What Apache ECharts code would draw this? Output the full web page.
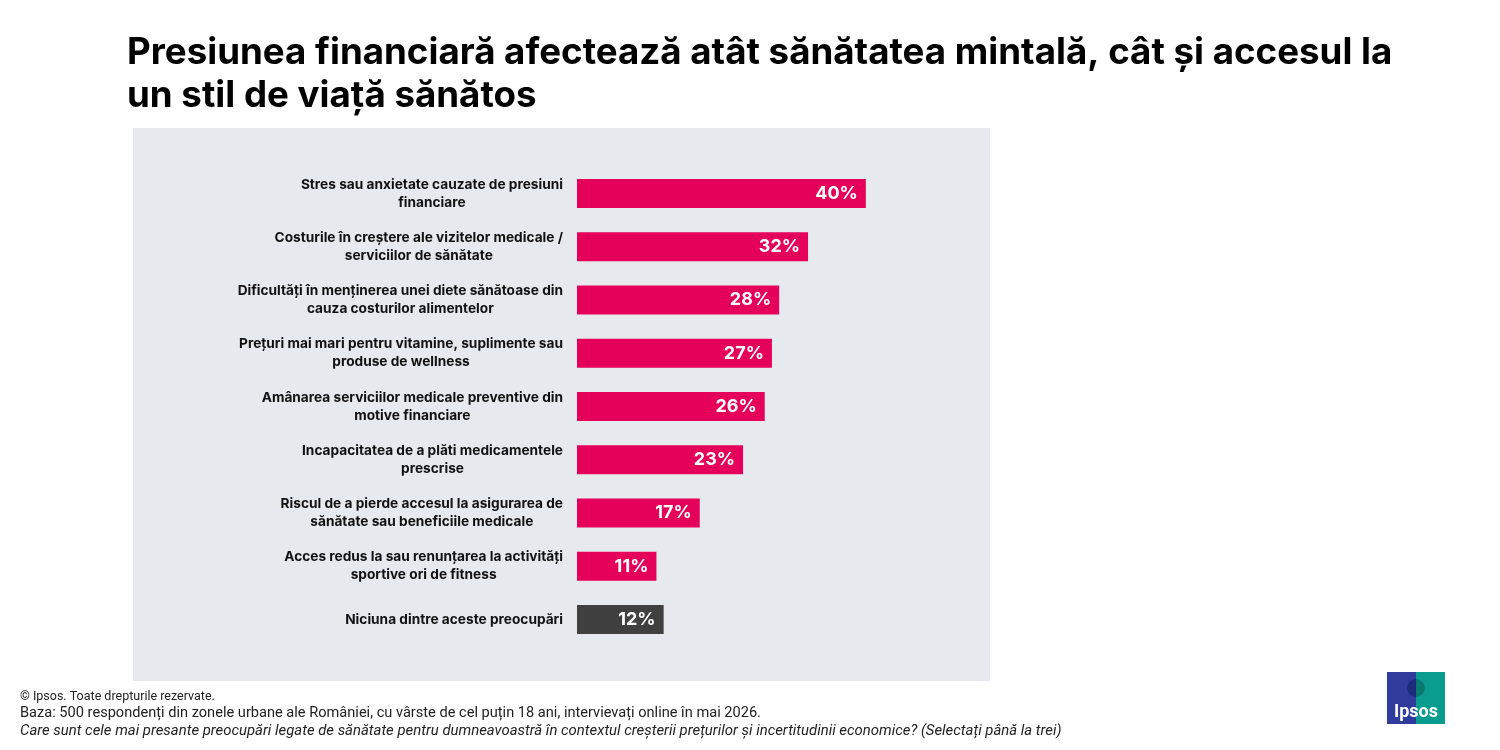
<!DOCTYPE html>
<html>
<head>
<meta charset="utf-8">
<script src="https://cdn.jsdelivr.net/npm/echarts@6/dist/echarts.min.js"></script>
<style>
  html, body { margin: 0; padding: 0; background: #fff; }
  #chart { width: 1500px; height: 750px; }
</style>
</head>
<body>
<div id="chart"></div>
<script>
// categories top -> bottom
const categories = [
  'Stres sau anxietate cauzate de presiuni\nfinanciare',
  'Costurile în creștere ale vizitelor medicale /\nserviciilor de sănătate',
  'Dificultăți în menținerea unei diete sănătoase din\ncauza costurilor alimentelor',
  'Prețuri mai mari pentru vitamine, suplimente sau\nproduse de wellness',
  'Amânarea serviciilor medicale preventive din\nmotive financiare',
  'Incapacitatea de a plăti medicamentele\nprescrise',
  'Riscul de a pierde accesul la asigurarea de\nsănătate sau beneficiile medicale',
  'Acces redus la sau renunțarea la activități\nsportive ori de fitness',
  'Niciuna dintre aceste preocupări'
]
const values = [40, 32, 28, 27, 26, 23, 17, 11, 12]
const barColors = ['#e5005a', '#e5005a', '#e5005a', '#e5005a', '#e5005a', '#e5005a', '#e5005a', '#e5005a', '#404040']

const titleText = 'Presiunea financiară afectează atât sănătatea mintală, cât și accesul la\nun stil de viață sănătos'
const footNotes = [
  '© Ipsos. Toate drepturile rezervate.',
  'Baza: 500 respondenți din zonele urbane ale României, cu vârste de cel puțin 18 ani, intervievați online în mai 2026.',
  'Care sunt cele mai presante preocupări legate de sănătate pentru dumneavoastră în contextul creșterii prețurilor și incertitudinii economice? (Selectați până la trei)'
]

const chart = echarts.init(document.getElementById('chart'))

const option = {
  backgroundColor: '#ffffff',
  animation: false,
  title: {
    text: titleText,
    left: 122,
    top: 26,
    textStyle: {
      fontFamily: 'Inter',
      fontWeight: 'bold',
      fontSize: 36.7,
      lineHeight: 43,
      color: '#000000'
    }
  },
  graphic: [
    {
      type: 'rect',
      z: -10,
      shape: { x: 133, y: 128, width: 857, height: 553 },
      style: { fill: '#e6e9ee' }
    },
    {
      type: 'text',
      left: 20,
      top: 690,
      style: { text: footNotes[0], font: '12.5px Roboto', fill: '#222' }
    },
    {
      type: 'text',
      left: 20,
      top: 706,
      style: { text: footNotes[1], font: '14.6px Roboto', fill: '#222' }
    },
    {
      type: 'text',
      left: 20,
      top: 724,
      style: { text: footNotes[2], font: 'italic 14.9px Roboto', fill: '#222' }
    },
    // Ipsos logo
    {
      type: 'group',
      left: 1387,
      top: 672,
      children: [
        { type: 'rect', shape: { x: 0, y: 0, width: 29, height: 52 }, style: { fill: '#2f3c9c' } },
        { type: 'rect', shape: { x: 29, y: 0, width: 29, height: 52 }, style: { fill: '#0b9c90' } },
        { type: 'sector', shape: { cx: 29, cy: 16, r0: 0, r: 9, startAngle: Math.PI / 2, endAngle: Math.PI * 1.5 }, style: { fill: '#1d2c7a' } },
        { type: 'sector', shape: { cx: 29, cy: 16, r0: 0, r: 9, startAngle: -Math.PI / 2, endAngle: Math.PI / 2 }, style: { fill: '#077a70' } },
        {
          type: 'text',
          style: { text: 'Ipsos', x: 29, y: 40, align: 'center', verticalAlign: 'middle', font: 'bold 18px Roboto', fill: '#fff' }
        }
      ]
    }
  ],
  grid: {
    left: 577,
    top: 167,
    width: 361,
    height: 479,
    containLabel: false
  },
  xAxis: {
    type: 'value',
    min: 0,
    max: 50,
    show: false
  },
  yAxis: {
    type: 'category',
    inverse: true,
    data: categories,
    axisLine: { show: false },
    axisTick: { show: false },
    splitLine: { show: false },
    axisLabel: {
      margin: 14,
      align: 'right',
      // lines centred inside a right-aligned block
      formatter: function(v) {
        return v.split('\n').map(function(s) { return '{c|' + s + '}' }).join('\n')
      },
      rich: {
        c: {
          align: 'center',
          color: '#111',
          fontFamily: 'Inter',
          fontWeight: 'bold',
          fontSize: 13.7,
          lineHeight: 18
        }
      }
    }
  },
  series: [
    {
      type: 'bar',
      barWidth: 29,
      data: values.map(function(v, i) {
        return { value: v, itemStyle: { color: barColors[i] } }
      }),
      label: {
        show: true,
        position: 'insideRight',
        distance: 8,
        formatter: '{c}%',
        color: '#fff',
        fontFamily: 'Inter',
        fontWeight: 'bold',
        fontSize: 18
      }
    }
  ]
}

chart.setOption(option)
</script>
</body>
</html>
